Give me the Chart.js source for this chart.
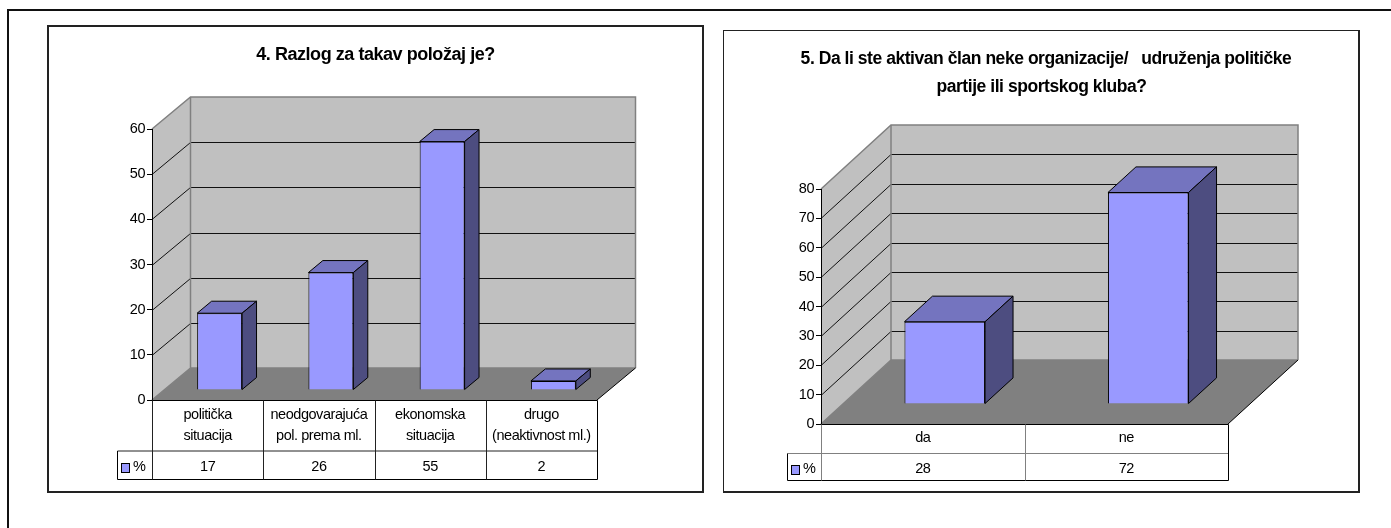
<!DOCTYPE html>
<html>
<head>
<meta charset="utf-8">
<script src="https://cdn.jsdelivr.net/npm/chart.js@4"></script>
<style>
html,body{margin:0;padding:0;background:#fff;width:1391px;height:528px;overflow:hidden}
canvas{position:absolute;display:block}
.line{position:absolute;background:#111}
.frame{position:absolute;box-sizing:border-box;border:2px solid #222;pointer-events:none}
</style>
</head>
<body>
<div class="line" style="left:7px;top:9px;width:2px;height:519px"></div>
<div class="line" style="left:7px;top:9px;width:1384px;height:2px"></div>
<canvas id="c1" style="left:47px;top:26px"></canvas>
<canvas id="c2" style="left:723px;top:30px"></canvas>
<div class="frame" style="left:47px;top:25px;width:657px;height:468px"></div>
<div class="frame" style="left:723px;top:30px;width:637px;height:463px;border-width:1px 2px 2px 1px"></div>
<script>
const seriesName = '%';

const titleLeft = '4. Razlog za takav položaj je?';
const categoriesLeft = [['politička','situacija'],['neodgovarajuća','pol. prema ml.'],['ekonomska','situacija'],['drugo','(neaktivnost ml.)']];
const valuesLeft = [17, 26, 55, 2];

const titleRight = ['  5. Da li ste aktivan član neke organizacije/   udruženja političke','partije ili sportskog kluba?'];
const categoriesRight = ['da','ne'];
const valuesRight = [28, 72];

const FONT = '"Liberation Sans", Arial, sans-serif';
const LABEL_SIZE = 14.5;
const C = {front:'#9999FF', top:'#7474BF', side:'#4D4D80', wall:'#C0C0C0', floor:'#808080', edge:'#808080', ink:'#000'};

const box3d = {
  id:'box3d',
  beforeDraw(chart){
    const o = chart.options.plugins.box3d, a = chart.chartArea, y = chart.scales.y, ctx = chart.ctx;
    ctx.letterSpacing = '-0.45px';
    const dx = o.depthX, dy = o.depthY;
    const poly = (pts, fill) => {
      ctx.beginPath(); pts.forEach((p,i)=> i?ctx.lineTo(p[0],p[1]):ctx.moveTo(p[0],p[1])); ctx.closePath();
      ctx.fillStyle=fill;ctx.fill();
    };
    const B = a.bottom, T = a.top, L = a.left, R = a.right;
    ctx.save();
    poly([[L+dx,B-dy],[R+dx,B-dy],[R+dx,T-dy],[L+dx,T-dy]], C.wall);
    poly([[L,B],[L+dx,B-dy],[L+dx,T-dy],[L,T]], C.wall);
    poly([[L,B],[R,B],[R+dx,B-dy],[L+dx,B-dy]], C.floor);
    // gridlines on the side wall and on the back wall
    ctx.strokeStyle = '#111'; ctx.lineWidth = 1;
    y.ticks.forEach(t=>{
      if(t.value===y.min||t.value===y.max) return;
      const p = Math.round(y.getPixelForValue(t.value))+0.5;
      ctx.beginPath(); ctx.moveTo(L,p); ctx.lineTo(L+dx,p-dy); ctx.lineTo(R+dx,p-dy); ctx.stroke();
    });
    // wall edges
    ctx.strokeStyle = C.edge; ctx.lineWidth = 1.5;
    ctx.beginPath(); ctx.moveTo(L,T); ctx.lineTo(L+dx,T-dy); ctx.lineTo(R+dx,T-dy); ctx.lineTo(R+dx,B-dy); ctx.stroke();
    ctx.beginPath(); ctx.moveTo(L+dx,T-dy); ctx.lineTo(L+dx,B-dy); ctx.lineTo(L,B); ctx.stroke();
    ctx.beginPath(); ctx.moveTo(L+dx,B-dy); ctx.lineTo(R+dx,B-dy); ctx.stroke();
    ctx.strokeStyle = '#000'; ctx.lineWidth = 1;
    ctx.beginPath(); ctx.moveTo(R,B); ctx.lineTo(R+dx,B-dy); ctx.stroke();
    ctx.restore();
  },
  beforeDatasetsDraw(chart){
    const o = chart.options.plugins.box3d, ctx = chart.ctx;
    const f = o.gap, bd = o.barDepth;
    ctx.save();
    ctx.translate(Math.round(o.depthX*f), -Math.round(o.depthY*f));
    const ddx = o.depthX*bd, ddy = o.depthY*bd;
    chart.getDatasetMeta(0).data.forEach(el=>{
      const {x,y,base,width} = el.getProps(['x','y','base','width'],true);
      const l = x-width/2, r = x+width/2;
      const poly = (pts, fill) => {
        ctx.beginPath(); pts.forEach((p,i)=> i?ctx.lineTo(p[0],p[1]):ctx.moveTo(p[0],p[1])); ctx.closePath();
        ctx.fillStyle=fill;ctx.fill();ctx.strokeStyle='#000';ctx.lineWidth=1;ctx.stroke();
      };
      poly([[l,y],[r,y],[r+ddx,y-ddy],[l+ddx,y-ddy]], C.top);
      poly([[r,y],[r+ddx,y-ddy],[r+ddx,base-ddy],[r,base]], C.side);
    });
  },
  afterDatasetsDraw(chart){ chart.ctx.restore(); },
  afterDraw(chart){
    const o = chart.options.plugins.box3d, a = chart.chartArea, ctx = chart.ctx, xs = chart.scales.x;
    const rowY = o.rowY, bottom = o.tableBottom, left = o.tableLeft;
    const half = (xs.getPixelForValue(1)-xs.getPixelForValue(0))/2;
    const L = Math.round(a.left)+0.5, R = Math.round(a.right)+0.5, B = Math.round(a.bottom)+0.5;
    ctx.save();
    const seg = (x1,y1,x2,y2,col) => {ctx.strokeStyle=col;ctx.lineWidth=1;ctx.beginPath();ctx.moveTo(x1,y1);ctx.lineTo(x2,y2);ctx.stroke();};
    seg(L,B,R,B,'#000');
    seg(left+.5,rowY+.5,R,rowY+.5,o.innerLine);
    seg(left+.5,bottom+.5,R,bottom+.5,'#000');
    seg(left+.5,rowY+.5,left+.5,bottom+.5,'#000');
    seg(R,B,R,bottom+.5,'#000');
    seg(L,B,L,bottom+.5,o.innerLine);
    const n = chart.data.labels.length;
    for(let i=1;i<n;i++){ const v=Math.round(xs.getPixelForValue(i)-half)+.5; seg(v,B,v,bottom+.5,o.innerLine); }
    // data row of the table
    const textY = (rowY+bottom)/2+2.5;
    ctx.fillStyle='#000'; ctx.font=LABEL_SIZE+'px '+FONT; ctx.textAlign='center'; ctx.textBaseline='middle';
    chart.data.datasets[0].data.forEach((v,i)=> ctx.fillText(String(v), xs.getPixelForValue(i), textY));
    // legend key
    const kx = left+4, ky = Math.round(textY)-4;
    ctx.fillStyle=C.front; ctx.fillRect(kx,ky,8,9);
    ctx.strokeStyle='#000'; ctx.strokeRect(kx+.5,ky+.5,8,9);
    ctx.fillStyle='#000'; ctx.textAlign='left';
    ctx.fillText(chart.data.datasets[0].label, kx+12, textY);
    ctx.restore();
  }
};

function build(id, w, h, title, labels, values, g){
  const cv = document.getElementById(id);
  cv.width = w; cv.height = h; cv.style.width = w+'px'; cv.style.height = h+'px';
  return new Chart(cv, {
    type:'bar',
    data:{labels, datasets:[{label:seriesName, data:values, backgroundColor:C.front, borderColor:'#000', borderWidth:1,
      barPercentage:g.bar, categoryPercentage:1, clip:false, yAxisID:'y'}]},
    plugins:[box3d],
    options:{
      responsive:false, animation:false, events:[],
      layout:{padding:0},
      plugins:{
        legend:{display:false}, tooltip:{enabled:false},
        title:{display:true, text:title, color:'#000', font:{family:FONT,size:g.titleSize,weight:'bold',lineHeight:g.titleLH},
          padding:{top:g.titleTop,bottom:g.titleBottom}},
        box3d:{depthX:g.dx, depthY:g.dy, gap:g.gap, barDepth:g.barDepth, rowY:g.rowY, tableBottom:g.tableBottom, tableLeft:g.tableLeft, innerLine:g.innerLine}
      },
      scales:{
        x:{offset:true, grid:{display:false,drawTicks:false}, border:{display:false},
          ticks:{autoSkip:false,maxRotation:0,minRotation:0,padding:g.xPad,color:'#000',font:{family:FONT,size:LABEL_SIZE,lineHeight:g.xLH}},
          afterFit(s){s.height=g.xHeight;}},
        y:{min:0,max:g.yMax, grid:{drawOnChartArea:false,drawTicks:true,tickLength:5,color:'#000'}, border:{display:true,color:'#000'},
          ticks:{stepSize:10,padding:2,color:'#000',font:{family:FONT,size:LABEL_SIZE}},
          afterFit(s){s.width=g.yWidth;}},
        // empty right-hand axis: reserves the space taken by the 3D depth
        depth:{position:'right',display:true,grid:{display:false},border:{display:false},ticks:{display:false},
          afterFit(s){s.width=g.padRight;}}
      }
    }
  });
}

build('c1',657,467,titleLeft,categoriesLeft,valuesLeft,{
  bar:0.404, dx:38.5, dy:32, gap:0.3125, barDepth:0.375, yMax:60,
  yWidth:105, xHeight:93, padRight:107, titleSize:18, titleLH:1.2, titleTop:18, titleBottom:63.4,
  xPad:4, xLH:1.45, rowY:424.5, tableBottom:453, tableLeft:70, innerLine:'#222'
});
build('c2',637,463,titleRight,categoriesRight,valuesRight,{
  bar:0.396, dx:70, dy:64, gap:0.3125, barDepth:0.4, yMax:80,
  yWidth:98, xHeight:69, padRight:132, titleSize:17.5, titleLH:1.6, titleTop:15, titleBottom:88,
  xPad:5, xLH:1.2, rowY:423, tableBottom:450, tableLeft:64, innerLine:'#808080'
});
</script>
</body>
</html>
